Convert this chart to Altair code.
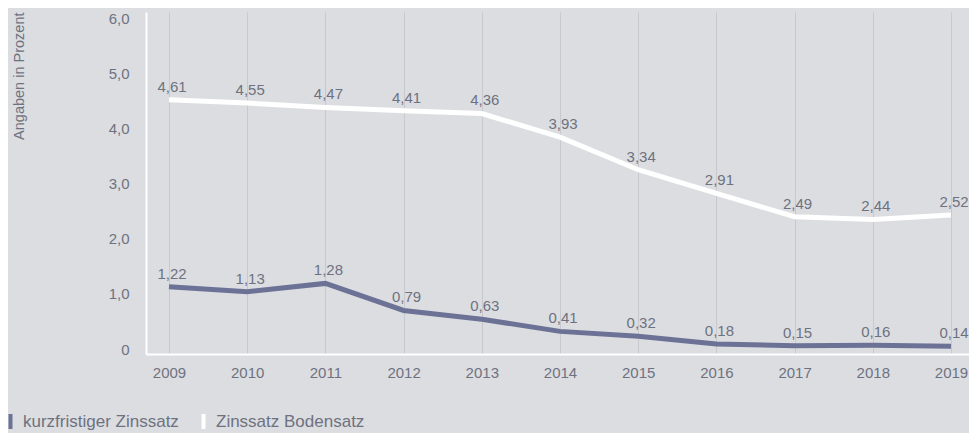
import altair as alt
import pandas as pd

years = [2009, 2010, 2011, 2012, 2013, 2014, 2015, 2016, 2017, 2018, 2019]
kurzfristig = [1.22, 1.13, 1.28, 0.79, 0.63, 0.41, 0.32, 0.18, 0.15, 0.16, 0.14]
bodensatz = [4.61, 4.55, 4.47, 4.41, 4.36, 3.93, 3.34, 2.91, 2.49, 2.44, 2.52]
series_names = ["kurzfristiger Zinssatz", "Zinssatz Bodensatz"]
series_colors = ["#6c7295", "#ffffff"]
y_ticks = [0, 1, 2, 3, 4, 5, 6]

rows = []
for y, v in zip(years, kurzfristig):
    rows.append({"Jahr": y, "Wert": v, "Reihe": series_names[0]})
for y, v in zip(years, bodensatz):
    rows.append({"Jahr": y, "Wert": v, "Reihe": series_names[1]})
df = pd.DataFrame(rows)

TEXT = "#6e7280"
FONT = "Liberation Sans"

x_enc = alt.X(
    "Jahr:Q",
    scale=alt.Scale(domain=[2008.706, 2019.230], nice=False, zero=False),
    axis=alt.Axis(
        values=years, format="d", title=None, grid=True, gridColor="#c8c9ce",
        gridWidth=1, ticks=False, domainColor="#ffffff", domainWidth=2,
        labelPadding=11, labelFontSize=15, labelColor=TEXT, labelFont=FONT,
    ),
)
y_enc = alt.Y(
    "Wert:Q",
    scale=alt.Scale(domain=[0, 6.2], nice=False),
    axis=alt.Axis(
        values=y_ticks, grid=False, ticks=False, domainColor="#ffffff", domainWidth=2,
        labelExpr="datum.value == 0 ? '0' : replace(format(datum.value, '.1f'), '.', ',')",
        labelPadding=17, labelFontSize=15, labelColor=TEXT, labelFont=FONT,
        labelOffset=-5,
        title="Angaben in Prozent", titleFontSize=14.5, titleFontWeight="normal",
        titleColor=TEXT, titleFont=FONT, titleAngle=-90, titleX=-127, titleY=0,
        titleAlign="right", titleBaseline="middle",
    ),
)
color_enc = alt.Color(
    "Reihe:N",
    scale=alt.Scale(domain=series_names, range=series_colors),
    legend=alt.Legend(
        title=None, orient="none", direction="horizontal", legendX=-145, legendY=400,
        symbolType="M0,-1L0,1", symbolStrokeWidth=4, symbolSize=225,
        labelFontSize=17, labelColor=TEXT, labelFont=FONT, labelOffset=3,
        columnPadding=15,
    ),
)

lines = alt.Chart(df).mark_line(strokeWidth=5).encode(x=x_enc, y=y_enc, color=color_enc)

labels = alt.Chart(df).transform_calculate(
    lab="replace(format(datum.Wert, '.2f'), '.', ',')"
).mark_text(dx=3, dy=-13, fontSize=15, color=TEXT, font=FONT, baseline="middle").encode(
    x="Jahr:Q", y="Wert:Q", text="lab:N"
)

chart = alt.layer(lines, labels).properties(
    width=823, height=342,
    background="#dcdde1",
    padding={"left": 138, "top": 4, "right": 0, "bottom": 79},
    autosize=alt.AutoSizeParams(type="none"),
).configure_view(stroke=None)

chart.save("out.html", embed_options={"renderer": "svg", "actions": False})
